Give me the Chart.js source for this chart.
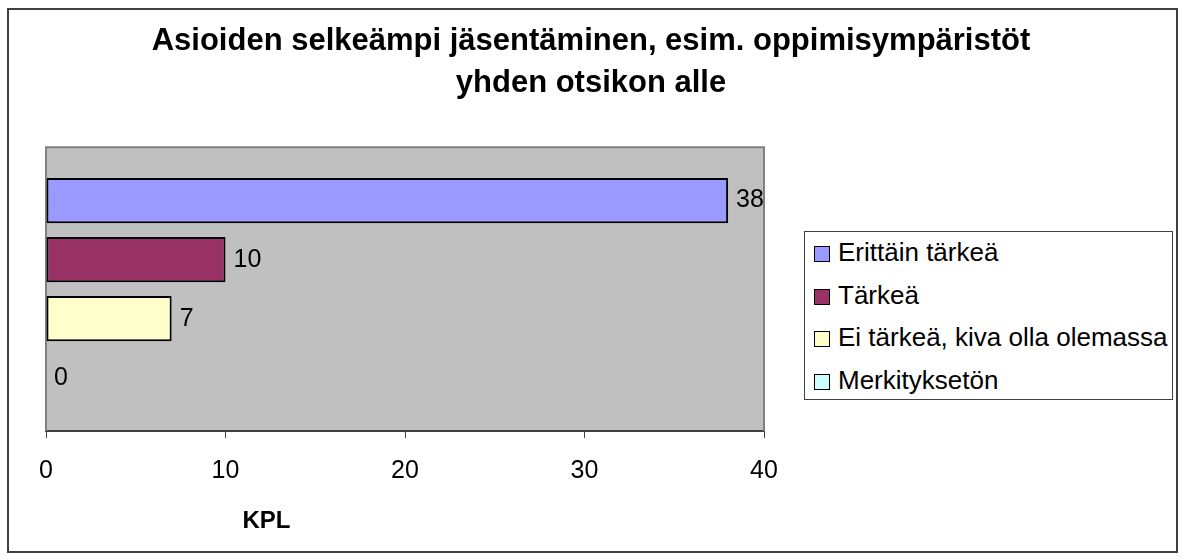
<!DOCTYPE html>
<html>
<head>
<meta charset="utf-8">
<script src="https://cdn.jsdelivr.net/npm/chart.js@4/dist/chart.umd.min.js"></script>
<style>
  body { margin: 0; background: #fff; font-family: "Liberation Sans", Arial, sans-serif; }
  #wrap { position: relative; width: 1182px; height: 560px; }
  #frame { position: absolute; left: 7px; top: 8px; width: 1167px; height: 541px; border: 2px solid #404040; pointer-events: none; }
  #legend { position: absolute; left: 804px; top: 231px; width: 367px; height: 167px; border: 1px solid #404040; background: #fff; }
  #legend .item { position: absolute; left: 9px; height: 30px; line-height: 30px; font-size: 26px; color: #000; white-space: nowrap; }
  #legend .sw { display: inline-block; width: 14px; height: 14px; border: 1px solid #000; margin-right: 8px; vertical-align: -1px; }
</style>
</head>
<body>
<div id="wrap">
  <canvas id="chart" width="1182" height="560"></canvas>
  <div id="frame"></div>
  <div id="legend"></div>
</div>
<script>
var titleLines = ["Asioiden selkeämpi jäsentäminen, esim. oppimisympäristöt", "yhden otsikon alle"];
var category = [""];
var answers = ["Erittäin tärkeä", "Tärkeä", "Ei tärkeä, kiva olla olemassa", "Merkityksetön"];
var counts = [38, 10, 7, 0];
var colors = ["#9999FF", "#993366", "#FFFFCC", "#CCFFFF"];
var xMin = 0, xMax = 40, xStep = 10;
var axisTitle = "KPL";

var font = "'Liberation Sans', Arial, sans-serif";

// gray plot background and the thin frame on top/left/right
var plotArea = {
  id: "plotArea",
  beforeDraw: function (chart) {
    var a = chart.chartArea, ctx = chart.ctx;
    ctx.save();
    ctx.fillStyle = "#C0C0C0";
    ctx.fillRect(a.left, a.top, a.right - a.left, a.bottom - a.top);
    ctx.restore();
  },
  beforeDatasetsDraw: function (chart) {
    var a = chart.chartArea, ctx = chart.ctx;
    ctx.save();
    ctx.strokeStyle = "#808080";
    ctx.lineWidth = 2;
    ctx.beginPath();
    ctx.moveTo(a.left, a.bottom);
    ctx.lineTo(a.left, a.top);
    ctx.lineTo(a.right, a.top);
    ctx.lineTo(a.right, a.bottom);
    ctx.stroke();
    ctx.restore();
  }
};

// value next to each bar, plus the axis caption under the ticks
var barLabels = {
  id: "barLabels",
  afterDatasetsDraw: function (chart) {
    var ctx = chart.ctx;
    ctx.save();
    ctx.font = "25px " + font;
    ctx.fillStyle = "#000";
    ctx.textBaseline = "middle";
    ctx.textAlign = "left";
    chart.data.datasets.forEach(function (ds, i) {
      var bar = chart.getDatasetMeta(i).data[0];
      ctx.fillText(String(ds.data[0]), bar.x + 8, bar.y);
    });
    var a = chart.chartArea;
    ctx.font = "bold 24px " + font;
    ctx.textAlign = "center";
    ctx.fillText(axisTitle, a.left + (a.right - a.left) * 0.307, 521);
    ctx.restore();
  }
};

var datasets = answers.map(function (name, i) {
  return {
    label: name,
    data: [counts[i]],
    backgroundColor: colors[i],
    borderColor: "#000",
    borderWidth: 2,
    borderSkipped: false,
    categoryPercentage: 0.833,
    barPercentage: 0.767
  };
});

new Chart(document.getElementById("chart"), {
  type: "bar",
  data: { labels: category, datasets: datasets },
  options: {
    indexAxis: "y",
    responsive: false,
    animation: false,
    layout: { padding: { top: 0, bottom: 56, left: 0, right: 0 } },
    plugins: {
      legend: { display: false },
      tooltip: { enabled: false },
      title: {
        display: true,
        text: titleLines,
        color: "#000",
        font: { family: font, size: 31, weight: "bold", lineHeight: 1.36 },
        padding: { top: 20, bottom: 43 }
      }
    },
    scales: {
      x: {
        min: xMin,
        max: xMax,
        ticks: { stepSize: xStep, color: "#000", padding: 18, font: { family: font, size: 25 } },
        grid: { drawOnChartArea: false, tickLength: 7, color: "#404040", lineWidth: 1 },
        border: { color: "#404040", width: 2 }
      },
      y: {
        ticks: { display: false },
        grid: { display: false },
        border: { display: false },
        afterFit: function (s) { s.width = 46; }
      },
      spacer: {
        type: "linear",
        position: "right",
        ticks: { display: false },
        grid: { display: false },
        border: { display: false },
        afterFit: function (s) { s.width = 418; }
      }
    }
  },
  plugins: [plotArea, barLabels]
});

// legend box on the right
var legend = document.getElementById("legend");
answers.forEach(function (name, i) {
  var item = document.createElement("div");
  item.className = "item";
  item.style.top = (5 + i * 42.7) + "px";
  var sw = document.createElement("span");
  sw.className = "sw";
  sw.style.background = colors[i];
  item.appendChild(sw);
  item.appendChild(document.createTextNode(name));
  legend.appendChild(item);
});
</script>
</body>
</html>
